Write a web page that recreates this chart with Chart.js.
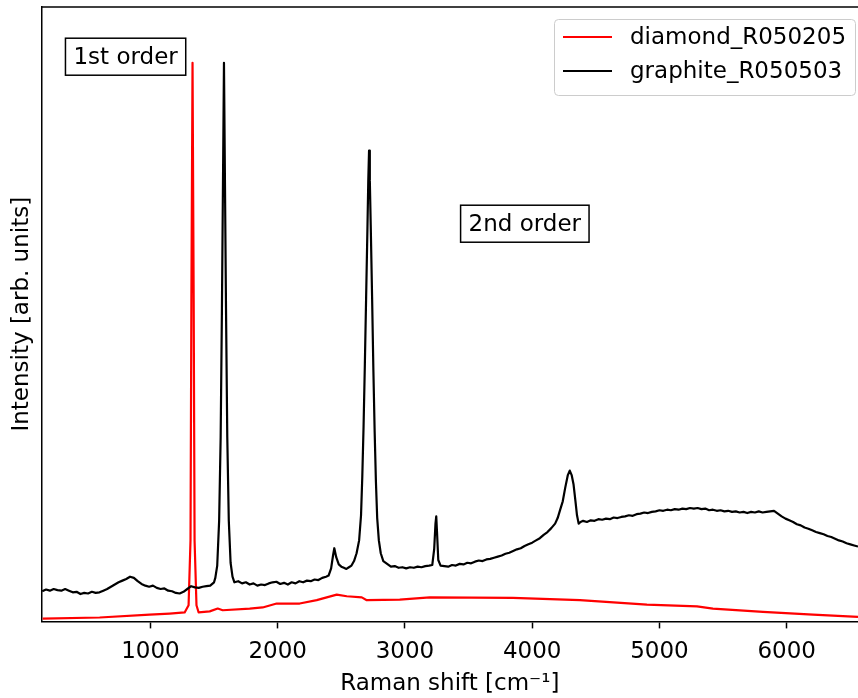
<!DOCTYPE html>
<html>
<head>
<meta charset="utf-8">
<script src="https://cdn.jsdelivr.net/npm/chart.js@4/dist/chart.umd.min.js"></script>
<style>
  html, body { margin: 0; padding: 0; background: #fff; }
  canvas { display: block; }
</style>
</head>
<body>
<canvas id="raman" width="858" height="698"></canvas>
<script>
// Raman spectra (intensity normalised, peak = 1000)
const xTicks = [1000, 2000, 3000, 4000, 5000, 6000];

const diamondShift = [
  153, 601, 994, 1151, 1269, 1300, 1315, 1322, 1331, 1340, 1347, 1362,
  1379, 1466, 1529, 1568, 1780, 1882, 1992, 2173, 2307, 2464, 2543, 2661, 2700,
  2959, 3195, 3848, 4375, 4901, 5295, 5420, 5813, 6206, 6560
];
const diamondIntensity = [
  5, 7, 12, 14, 16, 29, 145, 575, 1000, 575, 145, 29,
  16, 18, 23, 20, 23, 25, 32, 32, 38, 48, 45, 43, 38,
  39, 43, 42, 38, 30, 27, 23, 17, 12, 8
];

const graphiteShift = [
  150, 180, 210, 240, 270, 300, 330, 360, 390, 420, 450, 480, 510, 540, 570, 600,
  630, 660, 690, 720, 750, 780, 810, 840, 870, 900, 930, 960, 990, 1020, 1050, 1080,
  1110, 1140, 1170, 1200, 1230, 1260, 1290, 1320, 1350, 1380, 1410, 1440, 1470, 1500,
  1510, 1525, 1540, 1552, 1562, 1570, 1578, 1586, 1594, 1604, 1616, 1630, 1645, 1660,
  1690, 1720, 1750, 1780, 1810, 1840, 1870, 1900, 1930, 1960, 1990, 2020, 2050, 2080,
  2110, 2140, 2170, 2200, 2230, 2260, 2290, 2320, 2350, 2380, 2400, 2420, 2435, 2445,
  2460, 2480, 2500, 2520, 2540, 2560, 2580, 2600, 2620, 2640, 2655, 2665, 2675, 2685,
  2695, 2705, 2712, 2718, 2724, 2732, 2742, 2752, 2762, 2772, 2782, 2795, 2810, 2830,
  2860, 2890, 2920, 2950, 2980, 3010, 3040, 3070, 3100, 3130, 3160, 3190, 3215, 3230,
  3240, 3246, 3252, 3262, 3280, 3310, 3340, 3370, 3400, 3430, 3460, 3490, 3520, 3550,
  3580, 3610, 3640, 3670, 3700, 3730, 3760, 3790, 3820, 3850, 3880, 3910, 3940, 3970,
  4000, 4030, 4060, 4090, 4120, 4150, 4180, 4200, 4220, 4240, 4260, 4280, 4295, 4310,
  4325, 4340, 4352, 4365, 4380, 4400, 4430, 4460, 4490, 4520, 4550, 4580, 4610, 4640,
  4670, 4700, 4730, 4760, 4790, 4820, 4850, 4880, 4910, 4940, 4970, 5000, 5030, 5060,
  5090, 5120, 5150, 5180, 5210, 5240, 5270, 5300, 5330, 5360, 5390, 5420, 5450, 5480,
  5510, 5540, 5570, 5600, 5630, 5660, 5690, 5720, 5750, 5780, 5810, 5840, 5870, 5900,
  5930, 5960, 5990, 6020, 6050, 6080, 6110, 6140, 6170, 6200, 6230, 6260, 6290, 6320,
  6350, 6380, 6410, 6440, 6470, 6500, 6530, 6560
];
const graphiteIntensity = [
  54, 57, 55, 58, 56, 55, 58, 55, 52, 53, 49, 51, 50, 53, 51, 52,
  55, 58, 62, 66, 70, 73, 76, 80, 78, 72, 67, 64, 62, 64, 60, 58,
  59, 55, 54, 51, 50, 53, 58, 63, 61, 60, 62, 63, 64, 70,
  78, 100, 180, 330, 560, 780, 1000, 780, 560, 330, 180, 105, 80, 70,
  72, 68, 70, 66, 68, 64, 66, 65, 68, 70, 71, 67, 69, 66,
  70, 68, 72, 70, 73, 72, 75, 74, 78, 80, 82, 95, 118, 131,
  115, 102, 98, 96, 94, 97, 100, 108, 122, 145, 190, 260, 350, 460,
  580, 700, 790, 843, 790, 700, 580, 450, 340, 250, 185, 145, 122, 108,
  103, 98, 99, 96, 97, 95, 97, 96, 98, 97, 99, 100, 101, 130,
  175, 188, 160, 110, 100, 99, 98, 101, 100, 103, 102, 105, 104, 107,
  109, 108, 111, 112, 114, 116, 118, 121, 123, 126, 129, 131, 135, 138,
  141, 145, 149, 155, 160, 167, 175, 185, 200, 215, 240, 262, 270, 262,
  245, 215, 190, 175, 178, 180, 178, 181, 180, 183, 182, 184, 183, 186,
  185, 187, 188, 190, 189, 192, 193, 195, 194, 196, 197, 199, 198, 200,
  199, 201, 200, 202, 201, 203, 202, 203, 201, 202, 199, 200, 198, 199,
  197, 198, 196, 197, 195, 196, 194, 196, 195, 197, 195, 196, 197, 198,
  193, 188, 184, 181, 178, 174, 172, 168, 166, 163, 160, 158, 156, 153,
  151, 148, 145, 143, 140, 138, 136, 134
];

const seriesNames = ['diamond_R050205', 'graphite_R050503'];
const seriesColors = ['#ff0000', '#000000'];

const noteTexts = ['1st order', '2nd order'];
const noteX = [805, 3942];
const noteY = [1011, 712];

const FONT = 'DejaVu Sans';
const FONT_SIZE = 23;

function toPoints(xs, ys) {
  return xs.map((x, i) => ({ x: x, y: ys[i] }));
}

// top spine, text boxes and legend drawn over the plot
const overlayPlugin = {
  id: 'overlay',
  afterDatasetsDraw(chart) {
    const ctx = chart.ctx;
    const area = chart.chartArea;
    const xs = chart.scales.x;
    const ys = chart.scales.y;

    ctx.save();
    ctx.strokeStyle = '#000';
    ctx.lineWidth = 1.5;
    ctx.beginPath();
    ctx.moveTo(area.left, area.top);
    ctx.lineTo(area.right, area.top);
    ctx.stroke();

    ctx.font = FONT_SIZE + 'px "' + FONT + '"';
    ctx.textBaseline = 'middle';
    ctx.textAlign = 'center';
    noteTexts.forEach((t, i) => {
      const cx = xs.getPixelForValue(noteX[i]);
      const cy = ys.getPixelForValue(noteY[i]);
      const w = ctx.measureText(t).width + 16;
      const h = 37;
      ctx.fillStyle = '#fff';
      ctx.fillRect(cx - w / 2, cy - h / 2, w, h);
      ctx.strokeStyle = '#000';
      ctx.lineWidth = 1.5;
      ctx.strokeRect(cx - w / 2, cy - h / 2, w, h);
      ctx.fillStyle = '#000';
      ctx.fillText(t, cx, cy + 1);
    });

    // legend
    const lx = area.right - 304;
    const ly = area.top + 12;
    const lw = 301;
    const lh = 76;
    ctx.fillStyle = 'rgba(255,255,255,0.8)';
    ctx.strokeStyle = '#cccccc';
    ctx.lineWidth = 1;
    ctx.beginPath();
    ctx.roundRect(lx + 0.5, ly + 0.5, lw, lh, 4);
    ctx.fill();
    ctx.stroke();
    ctx.textAlign = 'left';
    seriesNames.forEach((name, i) => {
      const yy = ly + 18 + i * 34;
      ctx.strokeStyle = seriesColors[i];
      ctx.lineWidth = 2;
      ctx.beginPath();
      ctx.moveTo(lx + 9, yy);
      ctx.lineTo(lx + 58, yy);
      ctx.stroke();
      ctx.fillStyle = '#000';
      ctx.fillText(name, lx + 76, yy + 1);
    });
    ctx.restore();
  }
};

new Chart(document.getElementById('raman').getContext('2d'), {
  type: 'line',
  data: {
    datasets: [
      {
        label: seriesNames[0],
        data: toPoints(diamondShift, diamondIntensity),
        borderColor: seriesColors[0],
        borderWidth: 2.2,
        borderJoinStyle: 'round',
        pointRadius: 0,
        tension: 0,
        order: 1
      },
      {
        label: seriesNames[1],
        data: toPoints(graphiteShift, graphiteIntensity),
        borderColor: seriesColors[1],
        borderWidth: 2.2,
        borderJoinStyle: 'round',
        pointRadius: 0,
        tension: 0,
        order: 0
      }
    ]
  },
  options: {
    responsive: false,
    animation: false,
    layout: { padding: { left: 0, right: 0, top: 7, bottom: 0 } },
    plugins: {
      legend: { display: false },
      tooltip: { enabled: false }
    },
    scales: {
      x: {
        type: 'linear',
        min: 145,
        max: 6560,
        afterBuildTicks: (axis) => {
          axis.ticks = xTicks.map(v => ({ value: v }));
        },
        ticks: {
          color: '#000',
          padding: 11,
          font: { family: FONT, size: FONT_SIZE, lineHeight: 1.1 },
          maxRotation: 0,
          callback: (v) => String(v)
        },
        grid: {
          drawOnChartArea: false,
          drawTicks: true,
          tickLength: 7,
          tickColor: '#000',
          tickWidth: 1.5
        },
        border: { display: true, color: '#000', width: 1.5 },
        title: {
          display: true,
          text: 'Raman shift [cm\u207B\u00B9]',
          color: '#000',
          font: { family: FONT, size: FONT_SIZE, lineHeight: 1.1 },
          padding: { top: -4, bottom: 1 }
        }
      },
      y: {
        min: 0,
        max: 1100,
        ticks: { display: false },
        grid: { display: false, drawTicks: false },
        border: { display: true, color: '#000', width: 1.5 },
        title: {
          display: true,
          text: 'Intensity [arb. units]',
          color: '#000',
          font: { family: FONT, size: FONT_SIZE },
          padding: { top: 8, bottom: 6 }
        }
      }
    }
  },
  plugins: [overlayPlugin]
});
</script>
</body>
</html>
